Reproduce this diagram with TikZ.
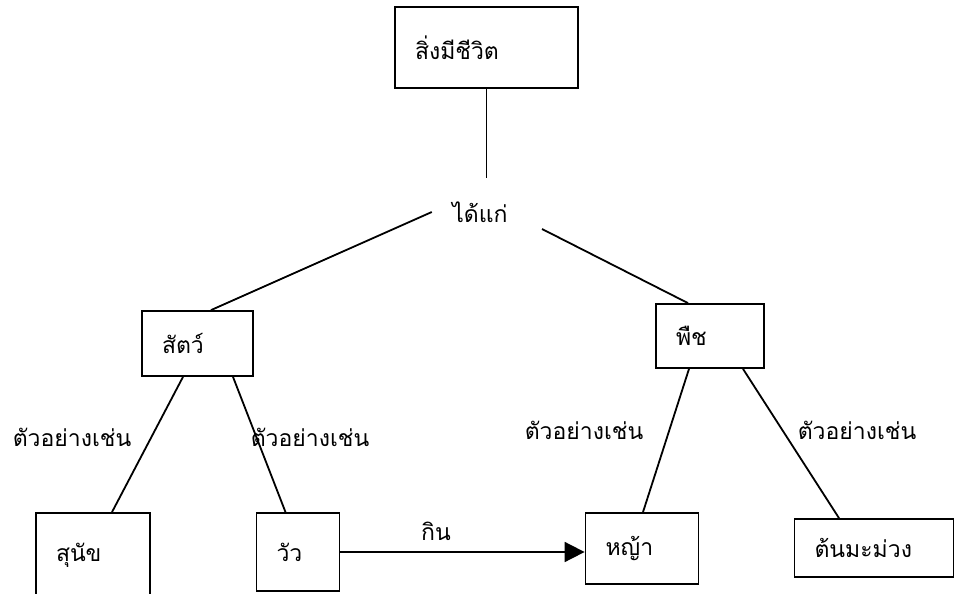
\documentclass[tikz,border=0pt]{standalone}
\usepackage{fontspec}
\setmainfont[Script=Thai]{Loma}
\usepackage{tikz}
\usetikzlibrary{arrows.meta}

\begin{document}
\begin{tikzpicture}[
  x=1pt, y=-1pt,
  box/.style={
    rectangle, draw=black, line width=1.8pt, align=left,
    inner xsep=20pt, inner ysep=0pt, font=\fontsize{23}{26}\selectfont
  },
  word/.style={font=\fontsize{23}{26}\selectfont, inner sep=0pt},
  link/.style={line width=1.8pt},
  arrow/.style={-{Triangle[length=20pt,width=20pt]}, line width=1.8pt}
]
\useasboundingbox (0,0) rectangle (956,594);

\node[box, text width=143, minimum height=81] (living) at (486.5,47.5) {สิ่งมีชีวิต};
\node[word, minimum width=96, minimum height=68] (get) at (480,212) {ได้แก่};

\node[box, text width=71, minimum height=65] (animal) at (197.5,343.5) {สัตว์};
\node[box, text width=68, minimum height=64] (plant) at (710,336) {พืช};

\node[box, text width=74, minimum height=85] (dog) at (93,555.5) {สุนัข};
\node[box, text width=43, minimum height=78] (cow) at (298,552) {วัว};
\node[box, text width=73, minimum height=71] (grass) at (642,548.5) {หญ้า};
\node[box, text width=119, minimum height=58] (mango) at (874,548) {ต้นมะม่วง};

\node[word] (eg1) at (72,437) {ตัวอย่างเช่น};
\node[word] (eg2) at (310,437) {ตัวอย่างเช่น};
\node[word] (eg3) at (584,430) {ตัวอย่างเช่น};
\node[word] (eg4) at (857,430) {ตัวอย่างเช่น};
\node[word] (eat) at (436,531) {กิน};

\draw[link] (living) -- (living |- get.north);
\draw[link] (get.west) -- ([xshift=13.5pt]animal.north);
\draw[link] ([xshift=62pt,yshift=-17pt]get.center) -- ([xshift=-22pt]plant.north);
\draw[link] ([xshift=-14.5pt]animal.south) -- ([xshift=19pt]dog.north);
\draw[link] ([xshift=35.5pt]animal.south) -- ([xshift=-12.5pt]cow.north);
\draw[link] ([xshift=-21pt]plant.south) -- ([xshift=1pt]grass.north);
\draw[link] ([xshift=33pt]plant.south) -- ([xshift=-35pt]mango.north);
\draw[arrow] (cow.east) -- (cow.east -| grass.west);
\end{tikzpicture}
\end{document}
